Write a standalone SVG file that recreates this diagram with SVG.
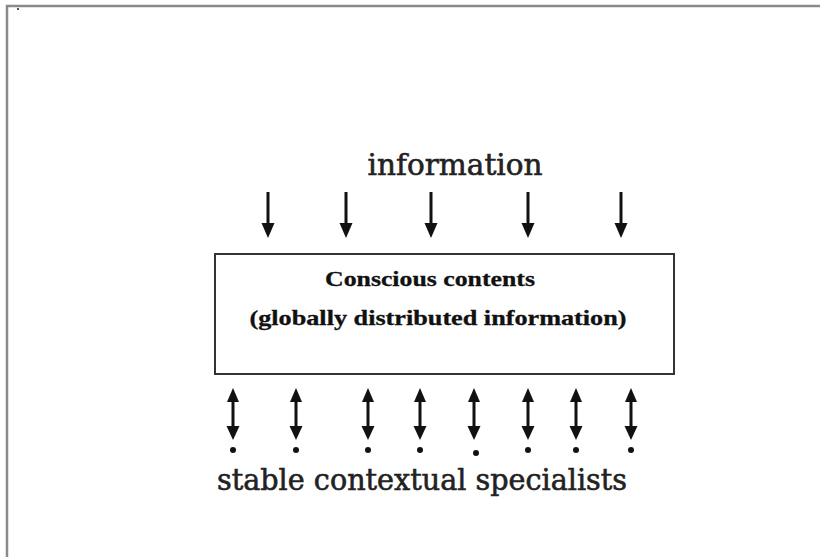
<svg xmlns="http://www.w3.org/2000/svg" width="820" height="557" viewBox="0 0 820 557">
<defs>
<style>
.frame{stroke:#8a8a8a;stroke-width:2.5;fill:none}
.box{fill:#fff;stroke:#333;stroke-width:2}
.shaft{stroke:#111;stroke-width:3;fill:none}
.head{fill:#111}
.dot{fill:#111}
.lbl{font-family:"DejaVu Serif","Liberation Serif",serif;fill:#222;stroke:#222;stroke-width:0.6}
.inner{font-family:"Liberation Serif",serif;font-weight:bold;fill:#111;font-size:21px;stroke:#111;stroke-width:0.3}
</style>
<g id="down"><line class="shaft" x1="0" y1="0" x2="0" y2="34"/><polygon class="head" points="-6.5,31 6.5,31 0,46"/></g>
<g id="both"><line class="shaft" x1="0" y1="10" x2="0" y2="42"/><polygon class="head" points="-6,14 6,14 0,0"/><polygon class="head" points="-6.5,38 6.5,38 0,52"/></g>
</defs>
<rect width="820" height="557" fill="#fff"/>
<path class="frame" d="M7,557 V6 H820"/>
<rect x="17" y="8" width="2" height="2" fill="#555"/>
<g id="information-label"><text class="lbl" x="455" y="175" font-size="29" text-anchor="middle" textLength="175" lengthAdjust="spacingAndGlyphs">information</text></g>
<g id="conscious-box">
<rect class="box" x="215" y="254" width="459" height="120"/>
<text class="inner" x="430" y="286" text-anchor="middle" textLength="210" lengthAdjust="spacingAndGlyphs">Conscious contents</text>
<text class="inner" x="438" y="325" text-anchor="middle" textLength="377" lengthAdjust="spacingAndGlyphs">(globally distributed information)</text>
</g>
<g id="specialists-label"><text class="lbl" x="422" y="490" font-size="29" text-anchor="middle" textLength="410" lengthAdjust="spacingAndGlyphs">stable contextual specialists</text></g>
<g id="connectors">
<use href="#down" x="268" y="192"/>
<use href="#down" x="346" y="192"/>
<use href="#down" x="431" y="192"/>
<use href="#down" x="528" y="192"/>
<use href="#down" x="621" y="192"/>
<use href="#both" x="233" y="388"/>
<use href="#both" x="296" y="388"/>
<use href="#both" x="368" y="388"/>
<use href="#both" x="420" y="388"/>
<use href="#both" x="474" y="388"/>
<use href="#both" x="528" y="388"/>
<use href="#both" x="576" y="388"/>
<use href="#both" x="631" y="388"/>
<circle class="dot" cx="233" cy="450" r="3"/>
<circle class="dot" cx="296" cy="450" r="3"/>
<circle class="dot" cx="368" cy="450" r="3"/>
<circle class="dot" cx="420" cy="450" r="3"/>
<circle class="dot" cx="476" cy="453" r="3"/>
<circle class="dot" cx="528" cy="450" r="3"/>
<circle class="dot" cx="576" cy="450" r="3"/>
<circle class="dot" cx="631" cy="450" r="3"/>
</g>
</svg>
